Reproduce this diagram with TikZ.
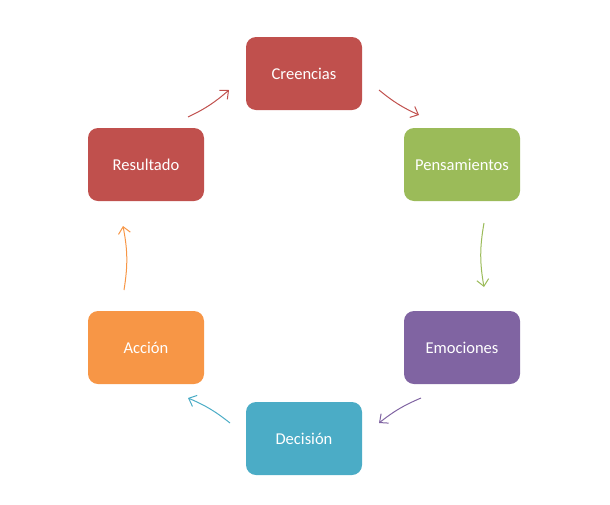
\documentclass[tikz,border=0pt]{standalone}
\usepackage{fontspec}
\setmainfont{Carlito}
\usetikzlibrary{arrows.meta}
\definecolor{cred}{HTML}{C0504D}
\definecolor{cgreen}{HTML}{9BBB59}
\definecolor{cpurple}{HTML}{8064A2}
\definecolor{cteal}{HTML}{4BACC6}
\definecolor{corange}{HTML}{F79646}
\tikzset{
  box/.style={rounded corners=7.5pt, minimum width=87pt, minimum height=54.75pt, inner sep=0pt, text=white, font=\fontsize{12.4}{15}\selectfont},
  cyc/.style={line width=0.75pt, -{Straight Barb[length=5pt,width=9pt,line width=0.75pt]}},
}
\begin{document}
\begin{tikzpicture}[x=0.75pt,y=-0.75pt]
\useasboundingbox (0,0) rectangle (610,504);
\node[box, fill=cred] (cre) at (304,73.5) {Creencias};
\node[box, fill=cgreen] (pen) at (462,164.5) {Pensamientos};
\node[box, fill=cpurple] (emo) at (462,347.5) {Emociones};
\node[box, fill=cteal] (dec) at (304,438.5) {Decisión};
\node[box, fill=corange] (acc) at (146,347.5) {Acción};
\node[box, fill=cred] (res) at (146,164.5) {Resultado};
\coordinate (s1) at (188,117); \coordinate (e1) at (229,90);
\coordinate (s2) at (379,90);  \coordinate (e2) at (419,115);
\coordinate (s3) at (484,223); \coordinate (e3) at (484,287);
\coordinate (s4) at (421,398); \coordinate (e4) at (379,423);
\coordinate (s5) at (230,423); \coordinate (e5) at (188,398);
\coordinate (s6) at (124,290); \coordinate (e6) at (123,226);
\draw[cyc, cred] (s1) to[bend right=7.75] (e1);
\draw[cyc, cred] (s2) to[bend right=7.5] (e2);
\draw[cyc, cgreen] (s3) to[bend right=10] (e3);
\draw[cyc, cpurple] (s4) to[bend right=7.6] (e4);
\draw[cyc, cteal] (s5) to[bend right=7.6] (e5);
\draw[cyc, corange] (s6) to[bend right=10] (e6);
\end{tikzpicture}
\end{document}
